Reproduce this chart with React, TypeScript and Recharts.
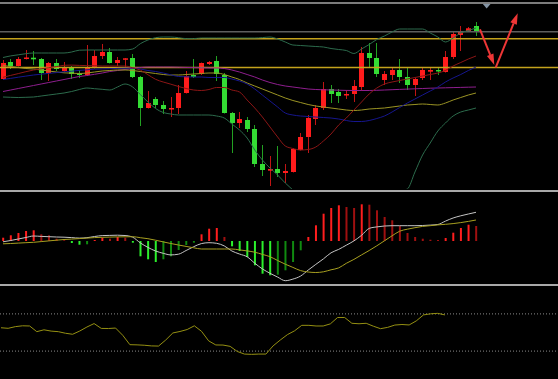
import React from 'react';
import { ComposedChart, Bar, Line, XAxis, YAxis, ReferenceLine, ReferenceDot, Cell } from 'recharts';

// ---- candles (price units) ----
const OPEN = [121, 138, 134, 141, 142.3, 141, 127, 137, 129, 132, 126.5, 125, 132, 144, 148, 137, 140.3, 142, 123, 92, 101, 95, 91, 92, 107, 125, 126, 136, 139, 125, 87, 77, 80, 71, 36, 29.3, 31, 27, 28, 50, 63, 81, 92, 111, 108, 104.7, 106, 113, 147, 142, 120, 125, 130, 123, 115, 122, 128.3, 130, 128, 143, 165, 168.3, 174];
const HIGH = [140, 141, 143, 150, 149, 142, 138, 141, 138, 134, 130, 155, 150, 156, 152, 143, 142, 146, 124, 109, 103, 99, 103, 115, 129, 141, 137.5, 139, 144, 127, 88, 88, 83, 75, 55, 44, 54, 36, 52, 67, 85, 95, 118, 115, 111, 110, 120, 153, 157, 157, 129, 132, 141, 132, 122, 132, 132, 133, 149, 168, 174, 173, 178];
const LOW = [120, 131, 133.5, 140.5, 135, 120, 119, 129, 128, 121, 122, 124, 131.5, 141, 136.5, 134, 133, 122, 74, 91.5, 92, 86, 83, 86, 106.5, 122, 125, 135, 119, 86.5, 47, 72, 68, 33, 24, 14, 23, 17, 27.5, 49.5, 47, 75, 90, 97, 97, 101, 98, 109, 133, 123, 115, 120, 117, 110, 104, 120, 120, 125, 127.5, 141, 149, 168, 164];
const CLOSE = [137, 134, 141, 142.5, 140.7, 127, 137, 131, 132, 126, 125, 132, 144, 148, 137, 140, 141.7, 123, 92, 97, 95, 91, 92, 107, 124, 123, 137, 138, 126, 87, 77, 81, 71, 36, 30, 31, 27, 29, 51, 63, 82, 92, 111, 106, 104, 106, 114, 147, 142, 126, 126, 130, 123, 115, 121, 130, 130, 128.7, 143, 166, 168, 171.7, 168];

// ---- overlays ----
const BB_UPPER = [142.5, 144.1, 145.2, 146.3, 147, 147, 147, 147, 147, 148, 149.8, 150, 150, 150, 150, 150, 150, 151, 156.3, 160, 162.3, 163, 163, 162.3, 161.4, 161.4, 162, 162, 162, 162, 162, 162, 162, 162, 162.4, 163, 161, 158, 155, 154.5, 154, 153.5, 153, 151.5, 150.5, 149.5, 146.5, 151, 155.5, 160.5, 164, 168, 171, 171, 171, 171, 167, 163, 158, 162, 167, 169.5, 172];
const BB_LOWER = [103, 102.7, 102.5, 102.7, 103, 104, 105, 106, 107, 108.5, 110.5, 112, 111.3, 110.7, 110, 113, 116, 113, 105.5, 98, 91.5, 87.5, 86, 85, 85, 85, 85, 85, 84, 82, 76, 70, 62, 50, 40, 32, 25, 17, 10, 2, -3, -7, -9, -10, -10, -9, -7, -4, 0, 3, 6, 8, 9, 11, 28, 45, 57, 69, 77, 84, 88, 90, 92];
const MA_RED = [122.7, 124.6, 126.4, 128.3, 130, 131.2, 132.3, 133.4, 134.7, 134.9, 134.6, 134.4, 134.2, 134, 134, 134, 134, 132.2, 129.9, 125.3, 120.7, 118, 115.8, 113.5, 111.5, 110, 109.5, 110.5, 112.5, 112.5, 110, 108, 100, 92, 83, 73, 63, 54, 51.5, 50, 50.5, 53, 59, 66, 75, 82, 90, 98, 106, 112, 116, 118, 119.5, 121, 122.5, 124, 125.5, 127, 129.5, 134, 137.5, 141, 144];
const MA_BLUE = [120.5, 121.6, 122.8, 123.9, 125, 125.8, 126.6, 127.4, 128.2, 128.8, 129.6, 130.2, 130.8, 131.1, 131.3, 131.6, 131.8, 132, 131, 129.5, 128.5, 127, 125.2, 123.5, 123.2, 123, 123, 122.5, 122.5, 122.5, 121, 119, 116, 111, 105, 99, 93, 87, 85, 84, 83.5, 83, 82.5, 82, 81, 79.5, 78.5, 78.5, 79.5, 81.5, 84, 88, 92.5, 97, 101, 105, 109, 113, 118, 122, 125.5, 129.5, 133];
const MA_YELLOW = [134.5, 133.5, 132.5, 131.5, 131, 130, 129, 128, 127.2, 126.8, 126.5, 127, 128, 129, 129.5, 130, 130, 129.5, 128.5, 127.5, 126.5, 125.5, 125, 125, 125.5, 126, 126.5, 127, 127, 125.5, 123, 120.5, 117, 114, 111, 108, 105, 102, 99.5, 97.5, 95.5, 94, 93, 92, 91, 90, 89.5, 90, 91, 91.5, 92, 93, 94, 95, 95.5, 96, 95.5, 95, 97, 100, 102.5, 105, 107];
const MA_PURPLE = [108.5, 110, 111.5, 113, 114.5, 116, 117.5, 119, 120.5, 122, 123.5, 124.5, 125.7, 127, 128.5, 129.5, 130.5, 131.5, 132.5, 133, 133, 133, 133, 132.8, 132.6, 132.4, 132.2, 132, 132, 131.5, 130, 128, 125.5, 123, 120, 117.5, 115.5, 114, 113, 112, 111, 110.5, 110.2, 110, 109.8, 109.6, 109.5, 109.5, 109.5, 109.7, 110, 110.3, 110.6, 110.9, 111.2, 111.5, 111.8, 112, 112.2, 112.4, 112.6, 112.8, 113];

// horizontal levels
const LEVEL_GRAY = 168.2;
const LEVEL_HIGH = 161.2;
const LEVEL_LOW = 132.5;

// drawn arrows (x = bar index, y = price)
const ARROW_DOWN = [{ x: 62.52, y: 170.7 }, { x: 64.4, y: 135 }];
const ARROW_UP = [{ x: 64.58, y: 132.3 }, { x: 67.47, y: 186.7 }];
const MARKER = { x: 63.4, y: 195 };

// ---- MACD ----
const MACD_HIST = [3.3, 5.7, 8, 10, 10.7, 6.7, 5.7, 2.3, 0.7, -2, -3.7, -3.3, 1, 3.3, 2.3, 4, 3.3, -1.7, -15.3, -18.3, -21, -18.3, -15.3, -9, -4, -1.7, 6.7, 12.3, 13, 4, -5.3, -10, -16, -24.3, -32.7, -34.3, -33.7, -29.3, -21, -9.3, 4, 15.7, 27.3, 33, 35.7, 34, 33, 36.7, 36.3, 30.7, 24, 20.7, 15, 8, 4, 2.3, 1.3, 1, 3, 8.3, 13, 16.3, 15];
const MACD_DIF = [-0.8, 0.5, 2.0, 3.5, 5.0, 4.6, 4.3, 4.0, 3.8, 3.4, 2.9, 3.3, 4.5, 5.4, 5.6, 5.8, 5.5, 3.8, -1.9, -6.4, -10.0, -12.3, -13.9, -13.2, -9.5, -5.7, -2.6, -1.7, -2.3, -4.9, -10.0, -13.0, -15.8, -22.2, -27.9, -32.3, -36.1, -39.7, -38.1, -35.1, -29.1, -23.4, -17.9, -11.8, -8.4, -4.2, 0.1, 5.7, 12.6, 14.1, 15.0, 15.3, 15.3, 15.3, 15.3, 15.5, 15.9, 16.5, 19.9, 23.0, 25.2, 27.0, 28.7];
const MACD_DEA = [-2.8, -2.5, -2.1, -1.7, -1.3, -0.6, 0.1, 0.8, 1.5, 1.9, 2.4, 2.9, 3.4, 3.7, 3.9, 4.1, 4.2, 4.3, 3.3, 2.3, 0.8, -0.9, -2.5, -4.0, -5.4, -6.8, -8.0, -8.0, -8.0, -8.0, -8.0, -8.9, -9.9, -11.2, -13.4, -15.7, -19.5, -23.2, -26.4, -29.6, -31.0, -31.5, -30.8, -28.8, -26.9, -22.3, -18.4, -13.9, -9.5, -4.8, 0.2, 5.2, 9.8, 11.8, 13.3, 14.6, 15.3, 16.1, 16.7, 17.4, 18.4, 19.6, 21.0];

// ---- RSI ----
const RSI = [55.1, 54.5, 56.3, 57.2, 57.0, 50.9, 52.9, 51.5, 50.9, 49.2, 48.1, 51.6, 55.9, 59.6, 54.4, 54.3, 54.8, 47.0, 36.9, 36.7, 36.3, 35.6, 35.4, 41.9, 49.5, 51.1, 53.2, 57.2, 51.3, 41.0, 36.6, 36.5, 35.1, 29.6, 26.8, 26.5, 26.8, 26.8, 35.6, 41.9, 47.7, 51.8, 57.7, 57.7, 57.0, 57.0, 59.3, 66.1, 66.1, 59.9, 59.4, 59.9, 56.8, 54.1, 55.5, 58.0, 58.6, 58.1, 62.5, 68.9, 70.1, 70.6, 68.9];
const RSI_LEVELS = [70, 30];

// ---- colours ----
const UP = '#ff1c1c';
const DOWN = '#34dc34';
const WICK_UP = '#c01414';
const WICK_DOWN = '#22a022';
const BAND = '#2c6b4c';
const ARROW = '#ee3636';

const mainData = OPEN.map((o, i) => ({
  i,
  open: o,
  high: HIGH[i],
  low: LOW[i],
  close: CLOSE[i],
  range: [LOW[i], HIGH[i]],
  bbU: BB_UPPER[i],
  bbL: BB_LOWER[i],
  red: MA_RED[i],
  blue: MA_BLUE[i],
  yel: MA_YELLOW[i],
  pur: MA_PURPLE[i],
}));

const macdData = MACD_HIST.map((h, i) => ({ i, hist: h, dif: MACD_DIF[i], dea: MACD_DEA[i] }));
const rsiData = RSI.map((r, i) => ({ i, rsi: r }));

const histColor = (i: number) => {
  const v = MACD_HIST[i];
  const p = i > 0 ? MACD_HIST[i - 1] : 0;
  if (v >= 0) return v >= p ? '#ff1e1e' : '#a01010';
  return v <= p ? '#2cf02c' : '#108a10';
};

const Candle = (props: any) => {
  const { x, y, width, height, payload } = props;
  if (x == null || y == null || !payload) return null;
  const top = Math.min(y, y + height);
  const h = Math.abs(height);
  const rng = payload.high - payload.low;
  const k = rng > 0 ? h / rng : 0;
  const py = (v: number) => top + (payload.high - v) * k;
  const up = payload.close >= payload.open;
  const cx = Math.round(x + width / 2) + 0.5;
  const bTop = py(Math.max(payload.open, payload.close));
  const bBot = py(Math.min(payload.open, payload.close));
  const bh = Math.max(1.5, bBot - bTop);
  return (
    <g>
      <line x1={cx} x2={cx} y1={py(payload.high)} y2={py(payload.low)} stroke={up ? WICK_UP : WICK_DOWN} strokeWidth={1} />
      <rect x={cx - 2.5} y={bTop} width={5} height={bh} fill={up ? UP : DOWN} />
    </g>
  );
};

const arrowShape = (props: any) => {
  const { x1, y1, x2, y2 } = props;
  if ([x1, y1, x2, y2].some((v) => v == null || isNaN(v))) return <g />;
  const dx = x2 - x1;
  const dy = y2 - y1;
  const len = Math.hypot(dx, dy) || 1;
  const ux = dx / len;
  const uy = dy / len;
  const hl = 11;
  const hw = 3.5;
  const bx = x2 - ux * hl;
  const by = y2 - uy * hl;
  const nx = -uy;
  const ny = ux;
  return (
    <g>
      <line x1={x1} y1={y1} x2={bx} y2={by} stroke={ARROW} strokeWidth={2} />
      <polygon points={`${x2},${y2} ${bx + nx * hw},${by + ny * hw} ${bx - nx * hw},${by - ny * hw}`} fill={ARROW} />
    </g>
  );
};

const markerShape = (props: any) => {
  const { cx, cy } = props;
  if (cx == null || cy == null) return <g />;
  return <polygon points={`${cx - 4.5},${cy - 1.8} ${cx + 4.5},${cy - 1.8} ${cx},${cy + 3.5}`} fill="#8595a5" />;
};

const X_DOMAIN: [number, number] = [-0.393, 72.75];
const RSI_X_DOMAIN: [number, number] = [-0.14, 77.79];

export default function App() {
  const line = (key: string, color: string) => (
    <Line key={key} type="monotone" dataKey={key} stroke={color} strokeWidth={1} dot={false} activeDot={false} isAnimationActive={false} />
  );
  return (
    <div style={{ position: 'fixed', left: 0, top: 0, width: 558, height: 379, background: '#000', overflow: 'hidden' }}>
      <div style={{ position: 'absolute', left: 0, top: 2, width: 558, height: 2, background: '#7c7c7c' }} />
      <div style={{ position: 'absolute', left: 0, top: 190, width: 558, height: 2, background: '#a8a8a8' }} />
      <div style={{ position: 'absolute', left: 0, top: 284, width: 558, height: 2, background: '#a8a8a8' }} />

      <div style={{ position: 'absolute', left: 0, top: 4 }}>
        <ComposedChart width={558} height={185} data={mainData} margin={{ top: 0, right: 0, bottom: 0, left: 0 }}>
          <XAxis dataKey="i" type="number" domain={X_DOMAIN} hide allowDataOverflow />
          <YAxis domain={[11, 196]} hide allowDataOverflow />
          <ReferenceLine y={LEVEL_GRAY} stroke="#5e5e5e" strokeWidth={1.5} />
          <ReferenceLine y={LEVEL_HIGH} stroke="#c4a21c" strokeWidth={1.6} />
          <ReferenceLine y={LEVEL_LOW} stroke="#c4a21c" strokeWidth={1.6} />
          <Bar dataKey="range" barSize={5} shape={Candle} isAnimationActive={false} />
          {line('bbU', BAND)}
          {line('bbL', BAND)}
          {line('pur', '#8e1e8e')}
          {line('yel', '#9b9424')}
          {line('blue', '#16168e')}
          {line('red', '#8c1616')}
          <ReferenceLine segment={ARROW_DOWN} shape={arrowShape} ifOverflow="visible" />
          <ReferenceLine segment={ARROW_UP} shape={arrowShape} ifOverflow="visible" />
          <ReferenceDot x={MARKER.x} y={MARKER.y} r={0} shape={markerShape} ifOverflow="visible" />
        </ComposedChart>
      </div>

      <div style={{ position: 'absolute', left: 0, top: 193 }}>
        <ComposedChart width={558} height={90} data={macdData} margin={{ top: 0, right: 0, bottom: 0, left: 0 }}>
          <XAxis dataKey="i" type="number" domain={X_DOMAIN} hide allowDataOverflow />
          <YAxis domain={[-42, 48]} hide allowDataOverflow />
          <Bar dataKey="hist" barSize={2} isAnimationActive={false}>
            {macdData.map((d) => (
              <Cell key={d.i} fill={histColor(d.i)} />
            ))}
          </Bar>
          <Line type="monotone" dataKey="dif" stroke="#c4c4c4" strokeWidth={1} dot={false} activeDot={false} isAnimationActive={false} />
          <Line type="monotone" dataKey="dea" stroke="#a8a020" strokeWidth={1} dot={false} activeDot={false} isAnimationActive={false} />
        </ComposedChart>
      </div>

      <div style={{ position: 'absolute', left: 0, top: 286 }}>
        <ComposedChart width={558} height={93} data={rsiData} margin={{ top: 0, right: 0, bottom: 0, left: 0 }}>
          <XAxis dataKey="i" type="number" domain={RSI_X_DOMAIN} hide allowDataOverflow />
          <YAxis domain={[0, 100]} hide allowDataOverflow />
          {RSI_LEVELS.map((l) => (
            <ReferenceLine key={l} y={l} stroke="#8a8a8a" strokeDasharray="1 2" />
          ))}
          <Line type="linear" dataKey="rsi" stroke="#959012" strokeWidth={1} dot={false} activeDot={false} isAnimationActive={false} />
        </ComposedChart>
      </div>
    </div>
  );
}
